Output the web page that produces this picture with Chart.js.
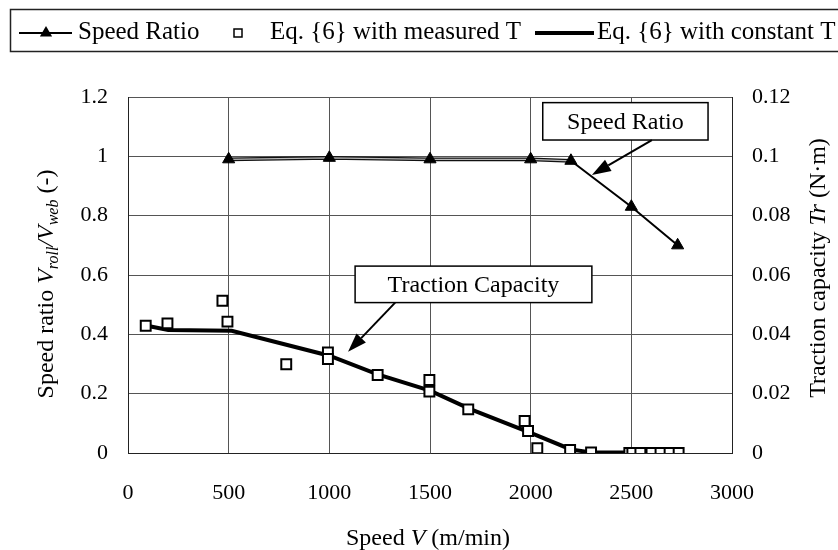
<!DOCTYPE html>
<html><head><meta charset="utf-8">
<script src="https://cdn.jsdelivr.net/npm/chart.js@4.4.1/dist/chart.umd.min.js"></script>
<style>html,body{margin:0;padding:0;background:#fff;overflow:hidden;}</style>
</head><body>
<canvas id="c" width="838" height="550" style="display:block;width:838px;height:550px"></canvas>
<script>
// ---- data ----
const speedRatioX = [500, 1000, 1500, 2000, 2200, 2500, 2730];
const speedRatioY = [0.99, 0.995, 0.99, 0.99, 0.985, 0.83, 0.70];

const measuredX = [88, 196, 469, 494, 786, 993, 993, 1240, 1497, 1497, 1690, 1970, 1987, 2033, 2196, 2300, 2490, 2505, 2545, 2600, 2645, 2690, 2735];
const measuredT = [0.0429, 0.0437, 0.0513, 0.0443, 0.0299, 0.0339, 0.0317, 0.0263, 0.0246, 0.0207, 0.0147, 0.0108, 0.0074, 0.0016, 0.0010, 0.0002, 0, 0, 0, 0, 0, 0, 0];

const constantX = [88, 200, 515, 1000, 1240, 1500, 1700, 2000, 2200, 2300, 2500];
const constantT = [0.0430, 0.0415, 0.0412, 0.0328, 0.0265, 0.0210, 0.0148, 0.0068, 0.0012, 0.0002, 0.0002];

const xTickValues = [0, 500, 1000, 1500, 2000, 2500, 3000];
const leftTickValues = [0, 0.2, 0.4, 0.6, 0.8, 1, 1.2];
const rightTickValues = [0, 0.02, 0.04, 0.06, 0.08, 0.1, 0.12];

const seriesLabels = ['Speed Ratio', 'Eq. {6} with measured T', 'Eq. {6} with constant T'];

// annotation callouts (data units: x speed, y left axis)
const callouts = [
  {text: 'Speed Ratio', x0: 2060, x1: 2881, y0: 1.055, y1: 1.181, tail: [2602, 1.055], head: [2304, 0.937]},
  {text: 'Traction Capacity', x0: 1128, x1: 2304, y0: 0.507, y1: 0.630, tail: [1327, 0.507], head: [1093, 0.341]}
];

const FONT = "'Liberation Serif', 'Times New Roman', serif";
Chart.defaults.font.family = FONT;
Chart.defaults.font.size = 22;
Chart.defaults.color = '#000';

const pts = (xs, ys) => xs.map((x, i) => ({x: x, y: ys[i]}));
const flat = c => c.p0.parsed.x < 2200;

function richText(ctx, segs, cx, cy, rot, dy) {
  ctx.save();
  ctx.translate(cx, cy);
  ctx.rotate(rot);
  ctx.textBaseline = 'alphabetic';
  ctx.textAlign = 'left';
  ctx.fillStyle = '#000';
  let total = 0;
  segs.forEach(s => { ctx.font = s.font; s.w = ctx.measureText(s.text).width; total += s.w; });
  let x = -total / 2;
  segs.forEach(s => { ctx.font = s.font; ctx.fillText(s.text, x, dy + (s.dy || 0)); x += s.w; });
  ctx.restore();
}

const decorPlugin = {
  id: 'decor',
  afterDatasetsDraw(chart) {
    const ctx = chart.ctx;
    const xs = chart.scales.x, ys = chart.scales.y;
    callouts.forEach(a => {
      const px0 = xs.getPixelForValue(a.x0), px1 = xs.getPixelForValue(a.x1);
      const py0 = ys.getPixelForValue(a.y1), py1 = ys.getPixelForValue(a.y0);
      ctx.save();
      ctx.fillStyle = '#fff';
      ctx.fillRect(px0, py0, px1 - px0, py1 - py0);
      ctx.strokeStyle = '#000';
      ctx.lineWidth = 1.5;
      ctx.strokeRect(px0, py0, px1 - px0, py1 - py0);
      ctx.fillStyle = '#000';
      ctx.font = '24px ' + FONT;
      ctx.textAlign = 'center';
      ctx.textBaseline = 'middle';
      ctx.fillText(a.text, (px0 + px1) / 2, (py0 + py1) / 2 + 1);
      // arrow
      const tx = xs.getPixelForValue(a.tail[0]), ty = ys.getPixelForValue(a.tail[1]);
      const hx = xs.getPixelForValue(a.head[0]), hy = ys.getPixelForValue(a.head[1]);
      const ang = Math.atan2(hy - ty, hx - tx);
      const L = 19, W = 6.5;
      const bx = hx - L * Math.cos(ang), by = hy - L * Math.sin(ang);
      ctx.lineWidth = 2;
      ctx.beginPath(); ctx.moveTo(tx, ty); ctx.lineTo(bx, by); ctx.stroke();
      ctx.beginPath();
      ctx.moveTo(hx, hy);
      ctx.lineTo(bx + W * Math.sin(ang), by - W * Math.cos(ang));
      ctx.lineTo(bx - W * Math.sin(ang), by + W * Math.cos(ang));
      ctx.closePath(); ctx.fill();
      ctx.restore();
    });
  },
  afterDraw(chart) {
    const ctx = chart.ctx;
    const ds = chart.data.datasets;
    const R = '24px ' + FONT, I = 'italic 24px ' + FONT, S = 'italic 16px ' + FONT;
    // axis titles
    richText(ctx, [{text: 'Speed ', font: R}, {text: 'V', font: I}, {text: ' (m/min)', font: R}], 428, 537, 0, 8);
    richText(ctx, [{text: 'Speed ratio ', font: R}, {text: 'V', font: I}, {text: 'roll', font: S, dy: 5},
                   {text: '/', font: I}, {text: 'V', font: I}, {text: 'web', font: S, dy: 5}, {text: ' (-)', font: R}],
             45, 284, -Math.PI / 2, 8);
    richText(ctx, [{text: 'Traction capacity ', font: R}, {text: 'Tr', font: I}, {text: ' (N\u00B7m)', font: R}],
             817, 268, -Math.PI / 2, 8);
    // legend
    ctx.save();
    ctx.strokeStyle = '#222';
    ctx.lineWidth = 1.5;
    ctx.strokeRect(10.5, 9.5, 840, 42);
    ctx.fillStyle = '#000';
    ctx.strokeStyle = '#000';
    const ly = 33;
    // speed ratio sample
    ctx.lineWidth = 2;
    ctx.beginPath(); ctx.moveTo(19, ly); ctx.lineTo(72, ly); ctx.stroke();
    ctx.beginPath(); ctx.moveTo(46, ly - 7); ctx.lineTo(52.1, ly + 3.5); ctx.lineTo(39.9, ly + 3.5); ctx.closePath(); ctx.fill();
    ctx.font = '25px ' + FONT;
    ctx.textBaseline = 'alphabetic';
    ctx.textAlign = 'left';
    ctx.fillText(ds[0].label, 78, 39);
    // measured sample
    ctx.fillStyle = '#fff';
    ctx.fillRect(234, ly - 4, 8, 8);
    ctx.lineWidth = 1.5;
    ctx.strokeRect(234, ly - 4, 8, 8);
    ctx.fillStyle = '#000';
    ctx.fillText(ds[2].label, 270, 39);
    // constant sample
    ctx.lineWidth = 4;
    ctx.beginPath(); ctx.moveTo(535, ly); ctx.lineTo(594, ly); ctx.stroke();
    ctx.fillText(ds[3].label, 597, 39);
    ctx.restore();
  }
};

const tickSetter = vals => (scale => { scale.ticks = vals.map(v => ({value: v})); });

new Chart(document.getElementById('c'), {
  type: 'line',
  data: {
    datasets: [
      { // Speed ratio: inner light stroke + triangle markers
        label: seriesLabels[0], data: pts(speedRatioX, speedRatioY), yAxisID: 'y',
        borderColor: '#000', borderWidth: 2,
        segment: { borderColor: c => flat(c) ? '#b8b8b8' : 'rgba(0,0,0,0)', borderWidth: c => flat(c) ? 1.3 : 2 },
        pointStyle: 'triangle', pointRadius: 7, pointBackgroundColor: '#000', pointBorderColor: '#000', pointBorderWidth: 1,
        tension: 0, fill: false
      },
      { // Speed ratio: outer stroke
        label: seriesLabels[0] + ' (outline)', data: pts(speedRatioX, speedRatioY), yAxisID: 'y',
        borderColor: '#000',
        segment: { borderColor: c => flat(c) ? '#111' : '#000', borderWidth: c => flat(c) ? 3.8 : 2 },
        pointRadius: 0, tension: 0, fill: false
      },
      {
        label: seriesLabels[1], data: pts(measuredX, measuredT), yAxisID: 'y2',
        showLine: false, pointStyle: 'rect', pointRadius: 7,
        pointBackgroundColor: '#fff', pointBorderColor: '#000', pointBorderWidth: 2
      },
      {
        label: seriesLabels[2], data: pts(constantX, constantT), yAxisID: 'y2',
        borderColor: '#000', borderWidth: 4, pointRadius: 0, tension: 0, fill: false
      }
    ]
  },
  options: {
    responsive: false,
    animation: false,
    devicePixelRatio: 1,
    layout: { padding: { top: 97, left: 0, right: 0, bottom: 0 } },
    plugins: { legend: { display: false }, tooltip: { enabled: false }, title: { display: false } },
    scales: {
      x: {
        type: 'linear', position: 'bottom', min: 0, max: 3000,
        afterBuildTicks: tickSetter(xTickValues),
        afterFit: s => { s.height = 97; },
        ticks: { padding: 27, maxRotation: 0, autoSkip: false, font: { size: 22 }, color: '#000', callback: v => String(v) },
        grid: { color: '#555', lineWidth: 1, drawTicks: false },
        border: { display: true, color: '#222', width: 1 }
      },
      y: {
        type: 'linear', position: 'left', min: 0, max: 1.2,
        afterBuildTicks: tickSetter(leftTickValues),
        afterFit: s => { s.width = 128; },
        ticks: { padding: 20, font: { size: 22 }, color: '#000', callback: v => String(v) },
        grid: { color: '#555', lineWidth: 1, drawTicks: false },
        border: { display: true, color: '#222', width: 1 }
      },
      y2: {
        type: 'linear', position: 'right', min: 0, max: 0.12,
        afterBuildTicks: tickSetter(rightTickValues),
        afterFit: s => { s.width = 106; },
        ticks: { padding: 20, font: { size: 22 }, color: '#000', callback: v => String(v) },
        grid: { display: false, drawTicks: false },
        border: { display: true, color: '#222', width: 1 }
      }
    }
  },
  plugins: [decorPlugin]
});
</script>
</body></html>
